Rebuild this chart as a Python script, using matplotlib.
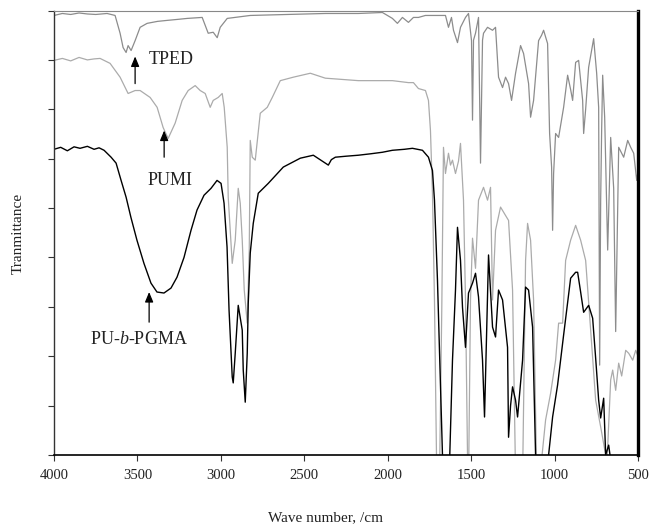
import matplotlib
matplotlib.use("Agg")
import matplotlib.pyplot as plt

plt.rcParams['font.family'] = ['Liberation Serif', 'DejaVu Serif']
plt.rcParams['mathtext.fontset'] = 'custom'
plt.rcParams['mathtext.rm'] = 'Liberation Serif'
plt.rcParams['mathtext.it'] = 'Liberation Serif:italic'

# FTIR spectra (wave number in cm-1, transmittance in arbitrary offset units)
tped_wn = [4000, 3950, 3900, 3850, 3800, 3750, 3682, 3634, 3604, 3586, 3568, 3556, 3538, 3514,
           3484, 3442, 3380, 3322, 3260, 3202, 3112, 3094, 3076, 3046, 3022, 3004, 2962, 2824,
           2600, 2374, 2176, 2032, 1972, 1942, 1912, 1876, 1846, 1816, 1774, 1654, 1636, 1618,
           1606, 1582, 1564, 1534, 1516, 1498, 1492, 1486, 1474, 1456, 1444, 1432, 1426, 1402,
           1372, 1354, 1336, 1312, 1294, 1276, 1258, 1234, 1204, 1186, 1156, 1144, 1126, 1096,
           1078, 1066, 1042, 1030, 1018, 1012, 1006, 994, 976, 946, 922, 904, 892, 874, 856,
           832, 826, 814, 796, 766, 748, 736, 730, 724, 718, 712, 700, 682, 664, 646, 634, 616,
           586, 562, 544, 526, 508, 500]
tped_t = [8.90, 8.94, 8.92, 8.95, 8.93, 8.92, 8.94, 8.90, 8.54, 8.25, 8.15, 8.29, 8.19, 8.39,
          8.66, 8.74, 8.78, 8.80, 8.82, 8.84, 8.86, 8.70, 8.54, 8.56, 8.45, 8.66, 8.84, 8.90,
          8.92, 8.94, 8.94, 8.96, 8.84, 8.74, 8.86, 8.76, 8.86, 8.86, 8.90, 8.90, 8.66, 8.86,
          8.60, 8.35, 8.66, 8.86, 8.94, 8.39, 6.78, 8.40, 8.54, 8.86, 5.91, 8.40, 8.54, 8.66,
          8.60, 8.66, 7.65, 7.44, 7.65, 7.52, 7.18, 7.73, 8.29, 8.13, 7.52, 6.84, 7.18, 8.39,
          8.50, 8.60, 8.33, 6.51, 5.83, 4.55, 5.70, 6.51, 6.43, 7.04, 7.69, 7.40, 7.18, 7.95,
          7.99, 7.18, 6.51, 7.00, 7.85, 8.43, 7.73, 7.04, 1.82, 5.16, 6.60, 7.69, 6.84, 4.15,
          6.43, 5.40, 2.50, 6.23, 6.03, 6.37, 6.23, 6.11, 5.56, 5.75]

pumi_wn = [4000, 3950, 3900, 3850, 3800, 3760, 3724, 3664, 3604, 3556, 3514, 3484, 3424, 3382,
           3346, 3316, 3274, 3232, 3196, 3154, 3124, 3094, 3064, 3046, 3016, 2992, 2980, 2962,
           2956, 2944, 2932, 2914, 2896, 2884, 2872, 2860, 2842, 2830, 2824, 2812, 2794, 2764,
           2722, 2692, 2644, 2566, 2464, 2374, 2176, 1972, 1876, 1846, 1816, 1774, 1756, 1744,
           1732, 1720, 1706, 1690, 1676, 1666, 1654, 1636, 1624, 1612, 1594, 1576, 1564, 1546,
           1534, 1522, 1515, 1504, 1492, 1474, 1456, 1426, 1402, 1384, 1372, 1354, 1324, 1294,
           1276, 1252, 1236, 1216, 1192, 1174, 1162, 1144, 1126, 1108, 1084, 1054, 1024, 994,
           976, 952, 934, 904, 874, 844, 814, 784, 754, 724, 694, 688, 664, 652, 634, 616, 598,
           574, 556, 532, 514, 500]
pumi_t = [7.99, 8.03, 7.98, 8.05, 8.00, 8.02, 8.03, 7.93, 7.65, 7.32, 7.38, 7.38, 7.24, 7.04,
          6.63, 6.41, 6.72, 7.18, 7.38, 7.48, 7.38, 7.32, 7.04, 7.18, 7.24, 7.32, 7.04, 6.23,
          5.22, 4.55, 3.88, 4.35, 5.40, 5.10, 4.35, 3.34, 2.67, 4.15, 6.37, 6.03, 5.97, 6.92,
          7.04, 7.24, 7.58, 7.65, 7.73, 7.63, 7.58, 7.58, 7.54, 7.54, 7.42, 7.38, 7.18, 6.57,
          5.30, 3.14, -0.5, -0.5, 3.00, 6.23, 5.70, 6.11, 5.87, 5.97, 5.70, 5.95, 6.31, 5.16,
          3.14, 0.00, -0.3, 3.14, 4.39, 3.78, 5.16, 5.42, 5.16, 5.42, 3.14, 4.55, 5.02, 4.85,
          4.75, 3.34, 0.00, -0.5, -0.5, 3.94, 4.69, 4.35, 3.14, -0.3, -0.3, 0.71, 1.25, 1.92,
          2.67, 2.67, 3.94, 4.35, 4.65, 4.35, 3.94, 2.53, 1.11, 0.57, 0.00, -0.3, 1.52, 1.72,
          1.31, 1.86, 1.60, 2.12, 2.06, 1.92, 2.12, 2.00]

pgma_wn = [4000, 3960, 3920, 3880, 3844, 3800, 3760, 3730, 3700, 3658, 3628, 3598, 3568, 3539,
           3503, 3461, 3419, 3383, 3341, 3299, 3263, 3221, 3179, 3143, 3101, 3059, 3023, 2999,
           2981, 2963, 2951, 2932, 2926, 2914, 2896, 2872, 2866, 2854, 2842, 2836, 2824, 2806,
           2776, 2716, 2626, 2524, 2446, 2374, 2356, 2338, 2314, 2250, 2176, 2100, 2032, 1972,
           1900, 1852, 1792, 1756, 1732, 1720, 1702, 1672, 1655, 1635, 1612, 1594, 1582, 1564,
           1552, 1534, 1516, 1492, 1474, 1456, 1432, 1420, 1408, 1396, 1372, 1354, 1336, 1312,
           1282, 1276, 1264, 1252, 1234, 1222, 1192, 1174, 1156, 1132, 1114, 1100, 1050, 1036,
           1012, 982, 946, 904, 874, 862, 844, 826, 796, 772, 754, 736, 724, 706, 694, 676, 664,
           600, 500]
pgma_t = [6.19, 6.23, 6.16, 6.24, 6.21, 6.25, 6.19, 6.22, 6.17, 6.03, 5.91, 5.56, 5.22, 4.81,
          4.35, 3.88, 3.48, 3.30, 3.28, 3.38, 3.60, 4.00, 4.55, 4.96, 5.26, 5.40, 5.56, 5.50,
          5.10, 4.21, 2.93, 1.58, 1.46, 2.06, 3.03, 2.53, 1.72, 1.07, 2.06, 3.07, 4.09, 4.69,
          5.30, 5.50, 5.83, 6.01, 6.07, 5.91, 5.87, 5.98, 6.03, 6.05, 6.07, 6.10, 6.13, 6.17,
          6.19, 6.21, 6.17, 6.03, 5.76, 5.16, 3.54, 0.00, -0.8, -0.8, 1.92, 3.34, 4.61, 3.94,
          2.99, 2.18, 3.28, 3.48, 3.68, 3.20, 1.92, 0.77, 2.40, 4.05, 2.59, 2.39, 3.34, 3.14,
          2.18, 0.36, 1.00, 1.38, 1.11, 0.77, 1.92, 3.40, 3.34, 2.59, 0.00, -0.5, -0.5, 0.00,
          0.77, 1.42, 2.43, 3.58, 3.70, 3.70, 3.30, 2.89, 3.03, 2.77, 1.96, 1.11, 0.75, 1.15,
          0.00, 0.20, -0.1, -0.5, -0.5]

xticks = [4000, 3500, 3000, 2500, 2000, 1500, 1000, 500]

fig = plt.figure(figsize=(6.5, 5.31), dpi=100)
ax = fig.add_axes([0.0831, 0.1431, 0.8985, 0.8371])

ax.plot(tped_wn, tped_t, color='#8c8c8c', lw=0.9)
ax.plot(pumi_wn, pumi_t, color='#ababab', lw=0.9)
ax.plot(pgma_wn, pgma_t, color='black', lw=1.0)

ax.set_xlim(4000, 500)
ax.set_ylim(0, 9)
ax.set_xticks(xticks)
ax.set_xticklabels([str(v) for v in xticks], fontsize=10.5, color='#222222')
ax.set_yticks(range(10))
ax.set_yticklabels([])
ax.tick_params(axis='both', direction='out', length=4, width=0.8, color='#333333')
ax.tick_params(axis='x', pad=6)

ax.spines['top'].set_color('#888888')
ax.spines['top'].set_linewidth(0.8)
ax.spines['right'].set_color('black')
ax.spines['right'].set_linewidth(2.4)
ax.spines['left'].set_color('#333333')
ax.spines['left'].set_linewidth(1.0)
ax.spines['bottom'].set_color('black')
ax.spines['bottom'].set_linewidth(1.2)

arrow = dict(arrowstyle='-|>,head_length=0.6,head_width=0.25', color='black', lw=0.9,
             shrinkA=0, shrinkB=0)
ax.annotate('', xy=(3514, 8.07), xytext=(3514, 7.52), arrowprops=arrow)
ax.annotate('', xy=(3340, 6.57), xytext=(3340, 6.03), arrowprops=arrow)
ax.annotate('', xy=(3430, 3.30), xytext=(3430, 2.69), arrowprops=arrow)
ax.text(3299, 8.01, 'TPED', fontsize=13, ha='center', va='center', color='#222222')
ax.text(3305, 5.56, 'PUMI', fontsize=13, ha='center', va='center', color='#222222')
ax.text(3490, 2.33, 'PU-$b$-PGMA', fontsize=13, ha='center', va='center', color='#222222')

fig.text(0.5, 0.025, 'Wave number, /cm', fontsize=11, ha='center', va='center', color='#222222')
fig.text(0.028, 0.56, 'Tranmittance', fontsize=11, ha='center', va='center', rotation=90,
         color='#222222')

fig.savefig('out.png', dpi=100)
